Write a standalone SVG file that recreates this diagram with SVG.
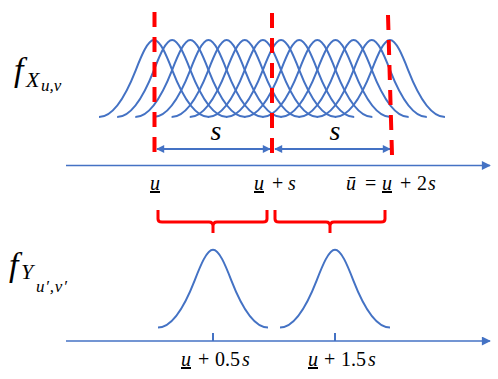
<svg xmlns="http://www.w3.org/2000/svg" width="498" height="379" viewBox="0 0 498 379">
<style>
.curve{fill:none;stroke:#4472C4;stroke-width:2}
.axis{fill:none;stroke:#4472C4;stroke-width:1.6}
.dash{fill:none;stroke:#FF0000;stroke-width:4;stroke-dasharray:15 10}
.brace{fill:none;stroke:#FF0000;stroke-width:3;stroke-linejoin:round}
.dim{fill:none;stroke:#4472C4;stroke-width:2}
.tick{stroke:#4472C4;stroke-width:2}
.i{font-style:italic}
.u{text-decoration:underline}
</style>
<defs>
<path id="g" d="M-55,0 C-42.8,0 -30.5,-15.6 -18.3,-46.7 C-12.2,-62.3 -6.1,-77 0,-77 C6.1,-77 12.2,-62.3 18.3,-46.7 C30.5,-15.6 42.8,0 55,0"/>
<marker id="ah" viewBox="0 0 10 10" refX="9" refY="5" markerWidth="9" markerHeight="8" markerUnits="userSpaceOnUse" orient="auto-start-reverse">
<path d="M0,0 L10,5 L0,10 z" fill="#4472C4"/>
</marker>
<marker id="ax" viewBox="0 0 10 10" refX="9" refY="5" markerWidth="11" markerHeight="9" markerUnits="userSpaceOnUse" orient="auto">
<path d="M0,0 L10,5 L0,10 z" fill="#4472C4"/>
</marker>
</defs>

<g id="top-curves" class="curve">
<use href="#g" transform="translate(154,117)"/>
<use href="#g" transform="translate(172.15,117)"/>
<use href="#g" transform="translate(190.3,117)"/>
<use href="#g" transform="translate(208.45,117)"/>
<use href="#g" transform="translate(226.6,117)"/>
<use href="#g" transform="translate(244.75,117)"/>
<use href="#g" transform="translate(262.9,117)"/>
<use href="#g" transform="translate(281.05,117)"/>
<use href="#g" transform="translate(299.2,117)"/>
<use href="#g" transform="translate(317.35,117)"/>
<use href="#g" transform="translate(335.5,117)"/>
<use href="#g" transform="translate(353.65,117)"/>
<use href="#g" transform="translate(371.8,117)"/>
<use href="#g" transform="translate(389.95,117)"/>
</g>

<g id="bottom-curves" class="curve">
<use href="#g" transform="translate(213,327.5) scale(1,1.01)"/>
<use href="#g" transform="translate(335,327.5) scale(1,1.01)"/>
</g>

<g id="connectors">
<line class="axis" x1="66" y1="165.5" x2="490" y2="165.5" marker-end="url(#ax)"/>
<line class="axis" x1="66" y1="341" x2="490" y2="341" marker-end="url(#ax)"/>
<line class="dim" x1="157" y1="149" x2="270" y2="149" marker-start="url(#ah)" marker-end="url(#ah)"/>
<line class="dim" x1="275" y1="149" x2="390" y2="149" marker-start="url(#ah)" marker-end="url(#ah)"/>
<line class="tick" x1="213" y1="333" x2="213" y2="341"/>
<line class="tick" x1="335" y1="333" x2="335" y2="341"/>
</g>

<g id="dashed-lines">
<line class="dash" x1="154.5" y1="12" x2="154.5" y2="153"/>
<line class="dash" x1="272" y1="13" x2="272" y2="155"/>
<line class="dash" x1="388" y1="15" x2="392" y2="155"/>
</g>

<g id="braces">
<path class="brace" d="M158,210 V219 Q158,222 162,222 H209 Q213,222 213,226 V233 M213,226 Q213,222 217,222 H263 Q267,222 267,219 V210"/>
<path class="brace" d="M275,210 V219 Q275,222 279,222 H326 Q330,222 330,226 V233 M330,226 Q330,222 334,222 H381 Q385,222 385,219 V210"/>
</g>

<g font-family="Liberation Serif, DejaVu Serif, serif" fill="#000">
<g id="label-fx">
<text class="i" x="14" y="81" font-size="34">f</text>
<text class="i" x="26" y="87" font-size="22">X</text>
<text class="i" x="41" y="91" font-size="17">u,v</text>
</g>

<g id="label-fy">
<text class="i" x="9" y="276" font-size="34">f</text>
<text class="i" x="21" y="279" font-size="22">Y</text>
<text class="i" x="36" y="292" font-size="17" letter-spacing="0.8">u′,v′</text>
</g>

<g id="label-s">
<text class="i" x="216" y="140" font-size="28" text-anchor="middle">s</text>
<text class="i" x="335" y="140" font-size="28" text-anchor="middle">s</text>
</g>

<g id="axis-labels" font-size="20">
<text x="150" y="190"><tspan class="i u">u</tspan></text>
<text y="190"><tspan class="i u" x="254">u</tspan><tspan x="272">+</tspan><tspan class="i" x="288">s</tspan></text>
<text y="190"><tspan class="i" x="346">ū</tspan><tspan x="365">=</tspan><tspan class="i u" x="382">u</tspan><tspan x="400">+</tspan><tspan x="417">2</tspan><tspan class="i" x="428">s</tspan></text>
<text y="366"><tspan class="i u" x="181">u</tspan><tspan x="198">+</tspan><tspan x="215">0.5</tspan><tspan class="i" x="242">s</tspan></text>
<text y="366"><tspan class="i u" x="308">u</tspan><tspan x="324">+</tspan><tspan x="341">1.5</tspan><tspan class="i" x="368">s</tspan></text>
</g>
</g>
</svg>
